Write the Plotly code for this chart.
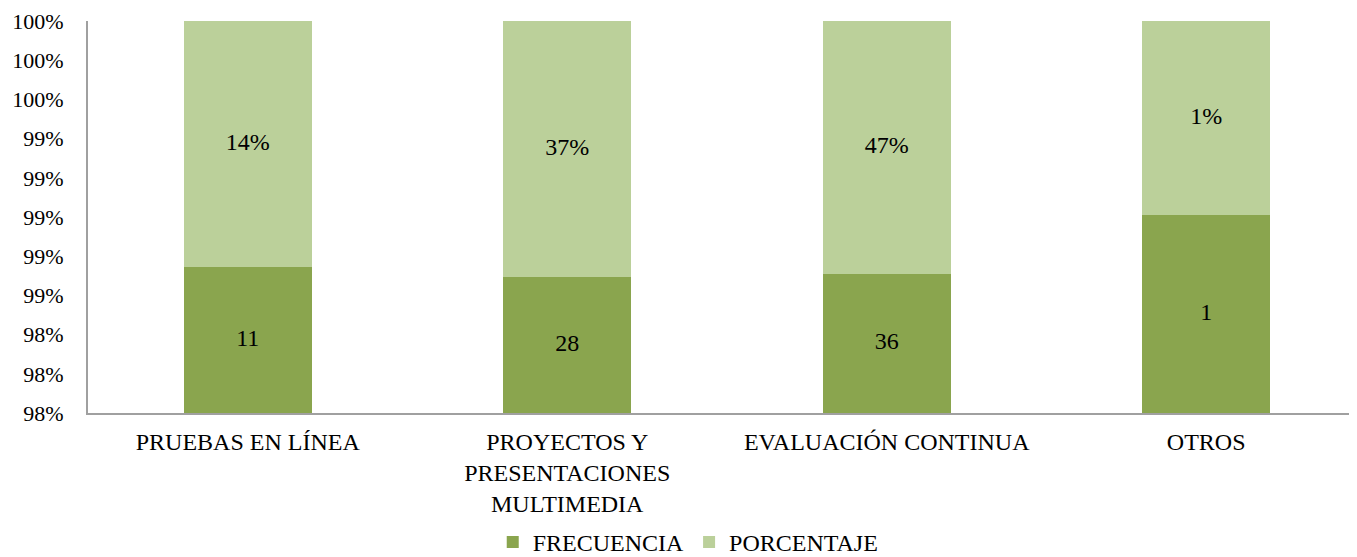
import plotly.graph_objects as go

categories = ["PRUEBAS EN LÍNEA", "PROYECTOS Y<br>PRESENTACIONES<br>MULTIMEDIA", "EVALUACIÓN CONTINUA", "OTROS"]
frecuencia = [11, 28, 36, 1]
porcentaje = [0.14, 0.37, 0.47, 0.01]
porcentaje_labels = ["14%", "37%", "47%", "1%"]

DARK = "#8AA54E"
LIGHT = "#BBD09A"
FONT = "Liberation Serif"
FS = 24
YMIN, YMAX = 98, 100

totals = [f + p for f, p in zip(frecuencia, porcentaje)]
share_f = [100 * f / t for f, t in zip(frecuencia, totals)]
mid_f = [(YMIN + s) / 2 for s in share_f]
mid_p = [(s + YMAX) / 2 for s in share_f]

tf = dict(size=FS, color="black", family=FONT)

fig = go.Figure()
fig.add_trace(go.Bar(name="FRECUENCIA", x=categories, y=frecuencia, marker_color=DARK,
                     marker_line_width=0, width=0.4, hoverinfo="skip"))
fig.add_trace(go.Bar(name="PORCENTAJE", x=categories, y=porcentaje, marker_color=LIGHT,
                     marker_line_width=0, width=0.4, hoverinfo="skip"))
fig.add_trace(go.Scatter(x=categories, y=mid_f, mode="text", text=[str(v) for v in frecuencia],
                         textfont=tf, showlegend=False, cliponaxis=False))
fig.add_trace(go.Scatter(x=categories, y=mid_p, mode="text", text=porcentaje_labels,
                         textfont=tf, showlegend=False, cliponaxis=False))

fig.update_layout(
    barmode="stack", barnorm="percent",
    width=1349, height=549,
    margin=dict(l=80, r=0, t=13, b=144, autoexpand=False),
    paper_bgcolor="white", plot_bgcolor="white",
    font=tf,
    legend=dict(orientation="h", x=0.473, xanchor="center", y=-0.33,
                yanchor="middle", font=tf, traceorder="normal", itemwidth=30,
                bgcolor="rgba(0,0,0,0)"),
    xaxis=dict(range=[-0.5, 3.472], showline=True, linecolor="#A0A0A0", linewidth=2,
               ticks="", showgrid=False, tickfont=tf, automargin=False, ticklabelstandoff=6),
    yaxis=dict(range=[YMIN, YMAX], dtick=0.2, tick0=98, tickformat=".0f", ticksuffix="%",
               showline=True, linecolor="#A0A0A0", linewidth=2, showgrid=False, ticks="",
               zeroline=False, ticklabelstandoff=18, tickfont=dict(size=22, color="black", family=FONT),
               automargin=False),
)

fig.write_html("out.html")
